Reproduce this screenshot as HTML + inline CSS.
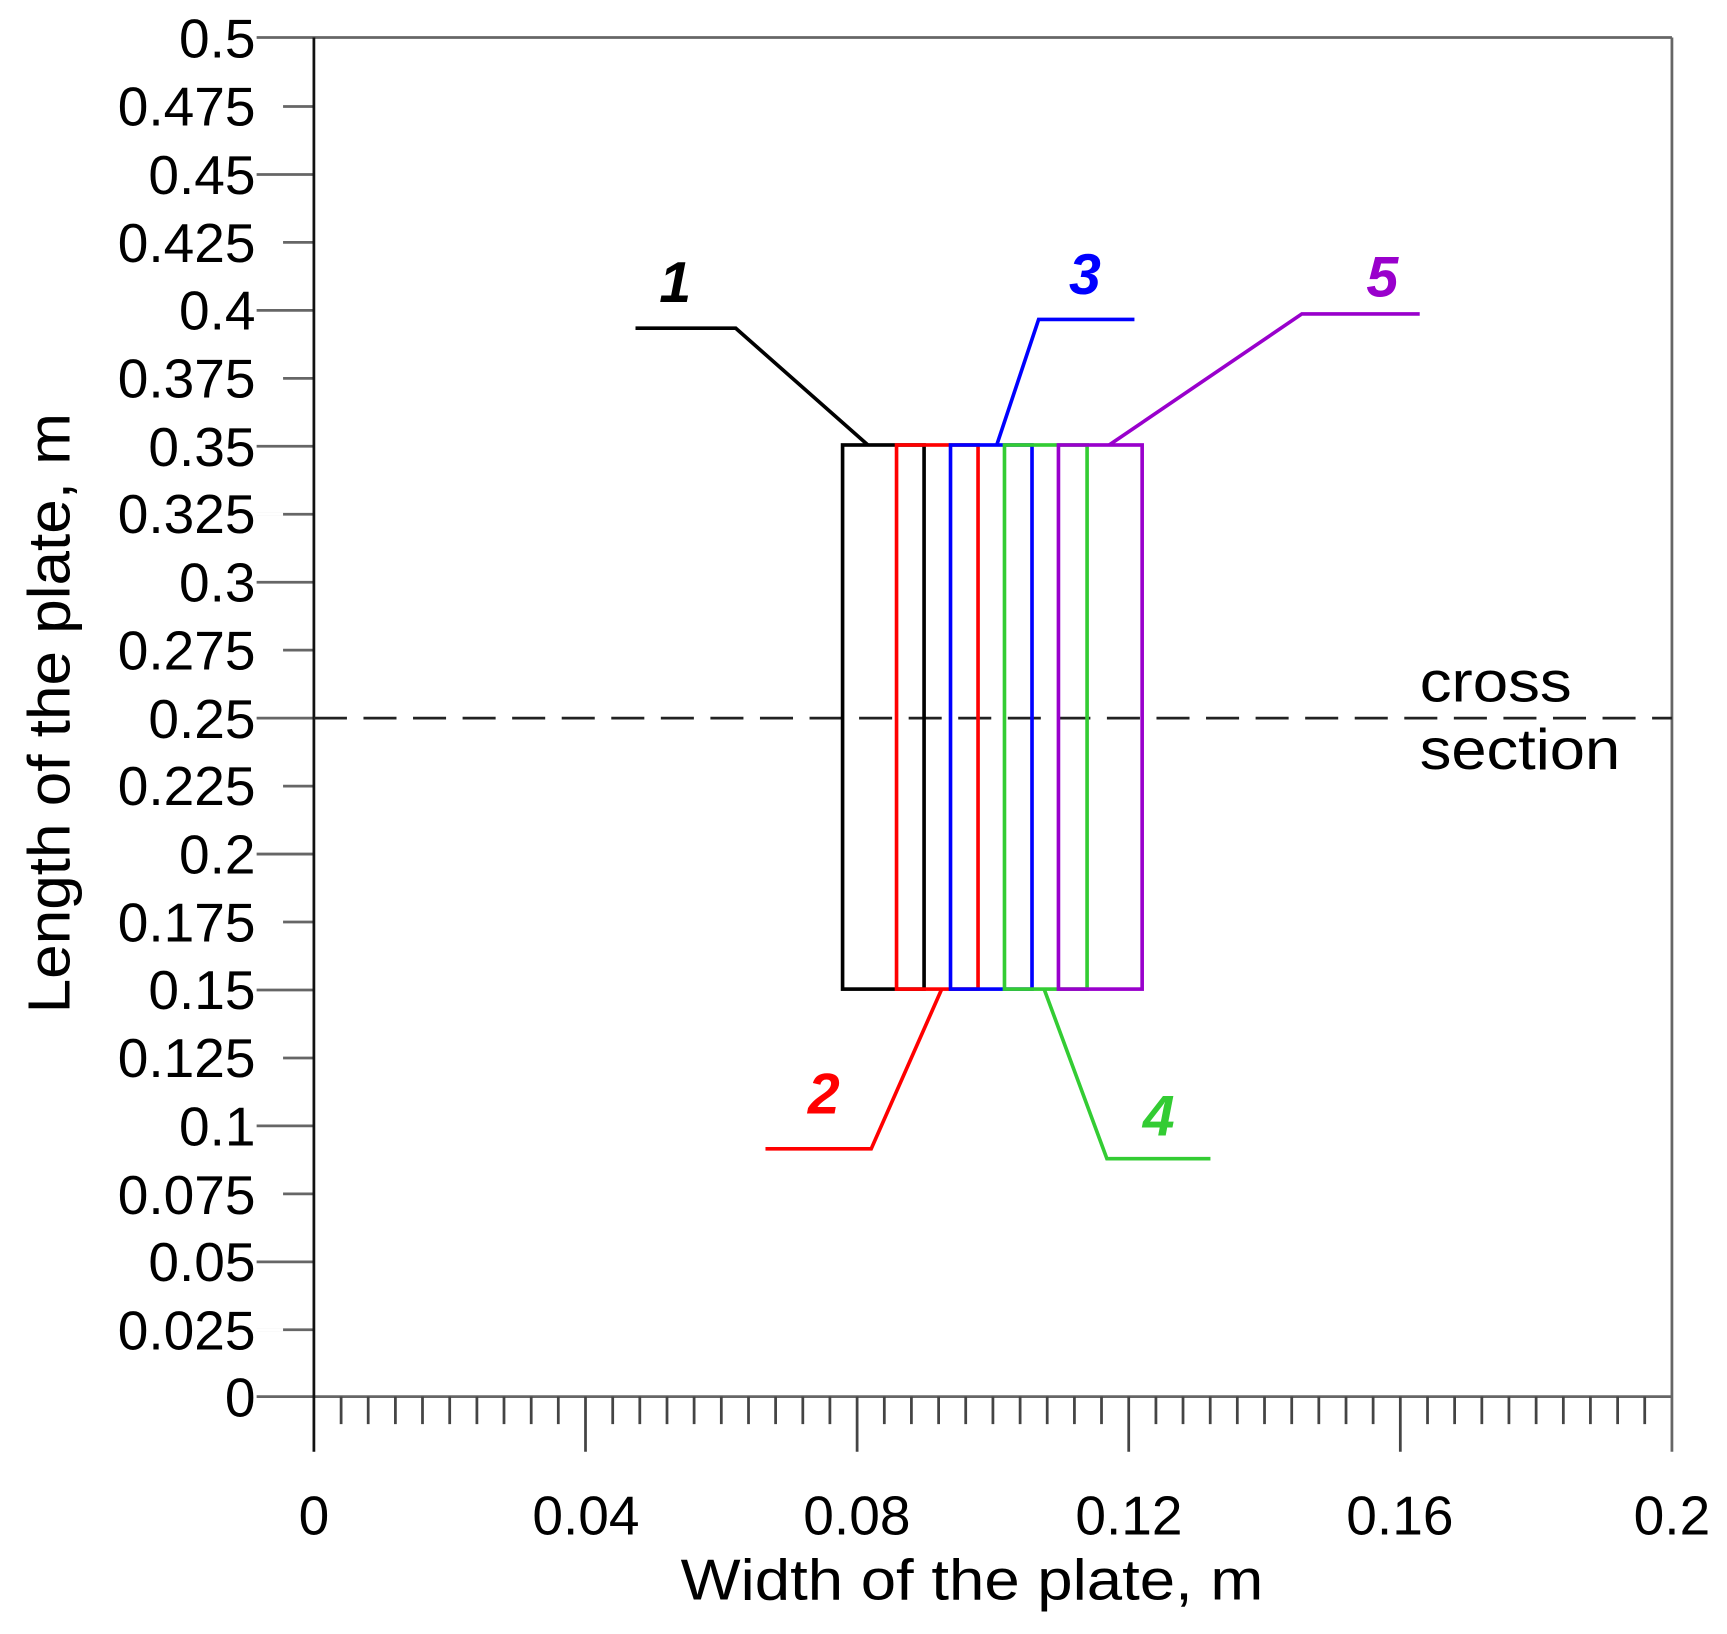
<!DOCTYPE html>
<html><head><meta charset="utf-8"><style>html,body{margin:0;padding:0;background:#fff}svg{display:block}</style></head>
<body>
<svg width="1727" height="1634" viewBox="0 0 1568 1483.5" preserveAspectRatio="none" xmlns="http://www.w3.org/2000/svg" font-family="Liberation Sans, sans-serif">
<g stroke="#666" stroke-width="2.5" fill="none">
<line x1="233" y1="34" x2="1518" y2="34"/>
<line x1="233" y1="1268" x2="1518" y2="1268"/>
<line x1="1518" y1="34" x2="1518" y2="1318"/>
<path d="M233 96.7H285M233 158.4H285M233 220.1H285M233 281.8H285M233 343.5H285M233 405.2H285M233 466.9H285M233 528.6H285M233 590.3H285M233 652H285M233 713.7H285M233 775.4H285M233 837.1H285M233 898.8H285M233 960.5H285M233 1022.2H285M233 1083.9H285M233 1145.6H285M233 1207.3H285" />
</g>
<g stroke="#fff" stroke-width="3">
<path d="M230 96.7H257M230 220.1H257M230 343.5H257M230 466.9H257M230 590.3H257M230 713.7H257M230 837.1H257M230 960.5H257M230 1083.9H257M230 1207.3H257"/>
</g>
<line x1="285" y1="34" x2="285" y2="1318" stroke="#111" stroke-width="2.5"/>
<g stroke="#444" stroke-width="2.5">
<path d="M309.7 1268V1293M334.3 1268V1293M359 1268V1293M383.6 1268V1293M408.3 1268V1293M433 1268V1293M457.6 1268V1293M482.3 1268V1293M506.9 1268V1293M531.6 1268V1318M556.3 1268V1293M580.9 1268V1293M605.6 1268V1293M630.2 1268V1293M654.9 1268V1293M679.6 1268V1293M704.2 1268V1293M728.9 1268V1293M753.5 1268V1293M778.2 1268V1318M802.9 1268V1293M827.5 1268V1293M852.2 1268V1293M876.8 1268V1293M901.5 1268V1293M926.2 1268V1293M950.8 1268V1293M975.5 1268V1293M1000.1 1268V1293M1024.8 1268V1318M1049.5 1268V1293M1074.1 1268V1293M1098.8 1268V1293M1123.4 1268V1293M1148.1 1268V1293M1172.8 1268V1293M1197.4 1268V1293M1222.1 1268V1293M1246.7 1268V1293M1271.4 1268V1318M1296.1 1268V1293M1320.7 1268V1293M1345.4 1268V1293M1370 1268V1293M1394.7 1268V1293M1419.4 1268V1293M1444 1268V1293M1468.7 1268V1293M1493.3 1268V1293"/>
</g>
<line x1="285" y1="652" x2="1518" y2="652" stroke="#222" stroke-width="2.5" stroke-dasharray="30,15"/>
<g fill="none" stroke-width="3.3">
<g stroke="#000"><rect x="765" y="404" width="74" height="494"/><polyline points="577,298 668,298 788,404"/></g>
<g stroke="#ff0000"><rect x="814" y="404" width="74" height="494"/><polyline points="695,1043 791,1043 855,898"/></g>
<g stroke="#0000ff"><rect x="863" y="404" width="74" height="494"/><polyline points="905,404 943,290 1030,290"/></g>
<g stroke="#33cc33"><rect x="912" y="404" width="75" height="494"/><polyline points="948,898 1005,1052 1099,1052"/></g>
<g stroke="#9900cc"><rect x="961" y="404" width="76" height="494"/><polyline points="1007,404 1182,285 1289,285"/></g>
</g>
<g font-size="52" font-weight="bold" font-style="italic" text-anchor="middle">
<text x="613" y="274" fill="#000">1</text>
<text x="748" y="1011" fill="#ff0000">2</text>
<text x="985" y="267" fill="#0000ff">3</text>
<text x="1052" y="1031" fill="#33cc33">4</text>
<text x="1255" y="269" fill="#9900cc">5</text>
</g>
<g font-size="50" fill="#000" text-anchor="end">
<text x="232" y="52">0.5</text><text x="232" y="114">0.475</text><text x="232" y="176">0.45</text><text x="232" y="238">0.425</text><text x="232" y="299">0.4</text><text x="232" y="361">0.375</text><text x="232" y="423">0.35</text><text x="232" y="484">0.325</text><text x="232" y="546">0.3</text><text x="232" y="608">0.275</text><text x="232" y="670">0.25</text><text x="232" y="731">0.225</text><text x="232" y="793">0.2</text><text x="232" y="855">0.175</text><text x="232" y="916">0.15</text><text x="232" y="978">0.125</text><text x="232" y="1040">0.1</text><text x="232" y="1102">0.075</text><text x="232" y="1163">0.05</text><text x="232" y="1225">0.025</text><text x="232" y="1286">0</text>
</g>
<g font-size="50" fill="#000" text-anchor="middle">
<text x="285" y="1393">0</text><text x="532" y="1393">0.04</text><text x="778" y="1393">0.08</text><text x="1025" y="1393">0.12</text><text x="1271" y="1393">0.16</text><text x="1518" y="1393">0.2</text>
</g>
<text x="618" y="1452" font-size="52" textLength="529" lengthAdjust="spacingAndGlyphs">Width of the plate, m</text>
<text transform="translate(63,920) rotate(-90)" font-size="54" textLength="545" lengthAdjust="spacingAndGlyphs">Length of the plate, m</text>
<text x="1289" y="637" font-size="52" textLength="138" lengthAdjust="spacingAndGlyphs">cross</text>
<text x="1289" y="698" font-size="52" textLength="182" lengthAdjust="spacingAndGlyphs">section</text>
</svg>
</body></html>
